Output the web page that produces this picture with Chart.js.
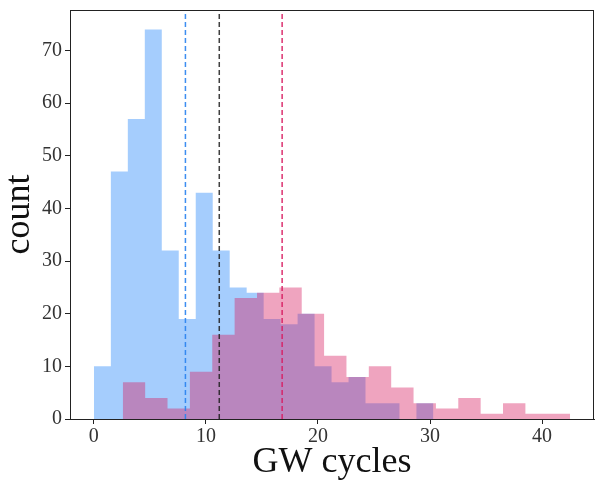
<!DOCTYPE html>
<html>
<head>
<meta charset="utf-8">
<script src="https://cdn.jsdelivr.net/npm/chart.js@4/dist/chart.umd.min.js"></script>
<style>
  html, body { margin: 0; padding: 0; background: #fff; }
  #wrap { width: 595px; height: 480px; }
</style>
</head>
<body>
<div id="wrap"><canvas id="hist"></canvas></div>
<script>
// histogram counts, 20 bins each
const blueCounts = [10, 47, 57, 74, 32, 19, 43, 32, 25, 24, 19, 18, 20, 10, 7, 8, 3, 3, 0, 3]
const pinkCounts = [7, 4, 2, 9, 16, 23, 24, 25, 20, 12, 8, 10, 6, 3, 2, 4, 1, 3, 1, 1]
// range of each histogram (matplotlib hist with bins=20)
const blueRange = [0, 30.3]
const pinkRange = [2.58, 42.5]
// dashed vertical lines: blue mean, overall mean, pink mean
const meanValues = [8.17, 11.19, 16.8]
const xTickValues = [0, 10, 20, 30, 40]
const yTickValues = [0, 10, 20, 30, 40, 50, 60, 70]

function stepPoints(counts, range) {
    const w = (range[1] - range[0]) / counts.length
    let pts = counts.map((c, i) => ({x: range[0] + i * w, y: c}))
    pts.push({x: range[1], y: counts[counts.length - 1]})
    return pts
}

function vline(x) {
    return [{x: x, y: 0}, {x: x, y: 80}]
}

const font = "'Liberation Serif', 'DejaVu Serif', serif"

const frame = {
    id: 'frame',
    afterDraw(chart) {
        const a = chart.chartArea
        const ctx = chart.ctx
        ctx.save()
        ctx.strokeStyle = '#222'
        ctx.lineWidth = 1
        ctx.strokeRect(a.left + 0.5, a.top + 0.5, a.right - a.left - 1, a.bottom - a.top)
        ctx.restore()
    }
}

var ctx = document.getElementById('hist').getContext('2d')
var chart = new Chart(ctx, {
    type: 'scatter',
    data: {
        datasets: [
            {
                data: stepPoints(blueCounts, blueRange),
                showLine: true, stepped: true, fill: 'origin',
                backgroundColor: 'rgba(30, 130, 250, 0.4)',
                borderWidth: 0, pointRadius: 0, order: 5
            },
            {
                data: stepPoints(pinkCounts, pinkRange),
                showLine: true, stepped: true, fill: 'origin',
                backgroundColor: 'rgba(216, 27, 96, 0.4)',
                borderWidth: 0, pointRadius: 0, order: 4
            },
            {
                data: vline(meanValues[0]),
                showLine: true, borderColor: 'rgba(40, 130, 240, 0.9)',
                borderWidth: 1.5, borderDash: [5, 3], pointRadius: 0, order: 3
            },
            {
                data: vline(meanValues[1]),
                showLine: true, borderColor: 'rgba(30, 30, 30, 0.85)',
                borderWidth: 1.5, borderDash: [5, 3], pointRadius: 0, order: 2
            },
            {
                data: vline(meanValues[2]),
                showLine: true, borderColor: 'rgba(216, 27, 96, 0.9)',
                borderWidth: 1.5, borderDash: [5, 3], pointRadius: 0, order: 1
            }
        ]
    },
    options: {
        responsive: true,
        maintainAspectRatio: false,
        animation: false,
        layout: { padding: { top: 10, right: 1, left: 0, bottom: 0 } },
        plugins: { legend: { display: false }, tooltip: { enabled: false } },
        scales: {
            x: {
                type: 'linear',
                min: -2.13,
                max: 44.63,
                afterBuildTicks: (s) => { s.ticks = xTickValues.map(v => ({value: v})) },
                afterFit: (s) => { s.height = 61; s.paddingLeft = 0; s.paddingRight = 0 },
                grid: { display: true, drawOnChartArea: false, drawTicks: true, tickLength: 5, color: '#222' },
                border: { display: true, color: '#222' },
                ticks: { color: '#333', font: { family: font, size: 20 }, padding: 1, maxRotation: 0 },
                title: { display: true, text: 'GW cycles', color: '#111', font: { family: font, size: 36 }, padding: { top: 0, bottom: -4 } }
            },
            y: {
                type: 'linear',
                min: 0,
                max: 77.7,
                afterBuildTicks: (s) => { s.ticks = yTickValues.map(v => ({value: v})) },
                afterFit: (s) => { s.width = 70; s.paddingTop = 0; s.paddingBottom = 0 },
                grid: { display: true, drawOnChartArea: false, drawTicks: true, tickLength: 5, color: '#222' },
                border: { display: true, color: '#222' },
                ticks: { color: '#333', font: { family: font, size: 20 }, padding: 3 },
                title: { display: true, text: 'count', color: '#111', font: { family: font, size: 36 }, padding: { top: -2, bottom: 0 } }
            }
        }
    },
    plugins: [frame]
})
</script>
</body>
</html>
